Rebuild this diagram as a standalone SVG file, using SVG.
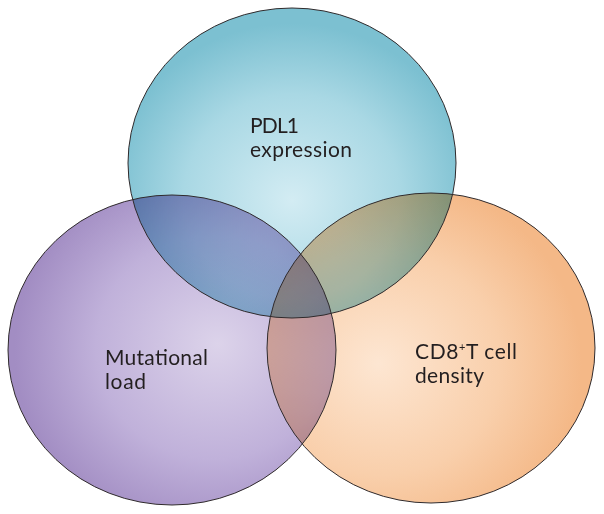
<svg xmlns="http://www.w3.org/2000/svg" width="604" height="514" viewBox="0 0 604 514">
  <style>
    .fill { mix-blend-mode: multiply; stroke: none; }
    .outline { fill: none; stroke: #2f2a2c; stroke-width: 1; }
    .label { font-family: Lato, "Open Sans", "Liberation Sans", sans-serif; font-size: 21px; fill: #231f20; }
  </style>
  <defs>
    <radialGradient id="gCyan" cx="0.5" cy="0.6" r="0.55" fx="0.5" fy="0.62">
      <stop offset="0" stop-color="#d3ecf3"/>
      <stop offset="0.6" stop-color="#a9d8e4"/>
      <stop offset="1" stop-color="#7cc0d1"/>
    </radialGradient>
    <radialGradient id="gPurple" cx="0.62" cy="0.5" r="0.6" fx="0.64" fy="0.48">
      <stop offset="0" stop-color="#dcd3ea"/>
      <stop offset="0.6" stop-color="#c0b1da"/>
      <stop offset="1" stop-color="#a28dc3"/>
    </radialGradient>
    <radialGradient id="gOrange" cx="0.36" cy="0.55" r="0.6" fx="0.34" fy="0.55">
      <stop offset="0" stop-color="#fde6d2"/>
      <stop offset="0.6" stop-color="#f9cfab"/>
      <stop offset="1" stop-color="#f4b887"/>
    </radialGradient>
  </defs>
  <rect x="0" y="0" width="604" height="514" fill="#ffffff"/>
  <g id="pdl1">
    <ellipse class="fill" cx="292" cy="163" rx="164" ry="155" fill="url(#gCyan)"/>
  </g>
  <g id="mutational-load">
    <ellipse class="fill" cx="172" cy="350" rx="164" ry="155" fill="url(#gPurple)"/>
  </g>
  <g id="cd8-density">
    <ellipse class="fill" cx="431" cy="348" rx="164" ry="155" fill="url(#gOrange)"/>
  </g>
  <g id="outlines">
    <ellipse class="outline" cx="292" cy="163" rx="164" ry="155"/>
    <ellipse class="outline" cx="172" cy="350" rx="164" ry="155"/>
    <ellipse class="outline" cx="431" cy="348" rx="164" ry="155"/>
  </g>
  <g id="connectors"/>
  <g id="labels">
    <text class="label" x="250" y="133" textLength="49" lengthAdjust="spacing">PDL1</text>
    <text class="label" x="250" y="157" textLength="102" lengthAdjust="spacing">expression</text>
    <text class="label" x="105" y="365" textLength="103" lengthAdjust="spacing">Mutational</text>
    <text class="label" x="105" y="389" textLength="41" lengthAdjust="spacing">load</text>
    <text class="label" x="415" y="359" textLength="102" lengthAdjust="spacing">CD8<tspan font-size="11" dy="-8">+</tspan><tspan dy="8">T cell</tspan></text>
    <text class="label" x="415" y="383" textLength="69" lengthAdjust="spacing">density</text>
  </g>
</svg>
